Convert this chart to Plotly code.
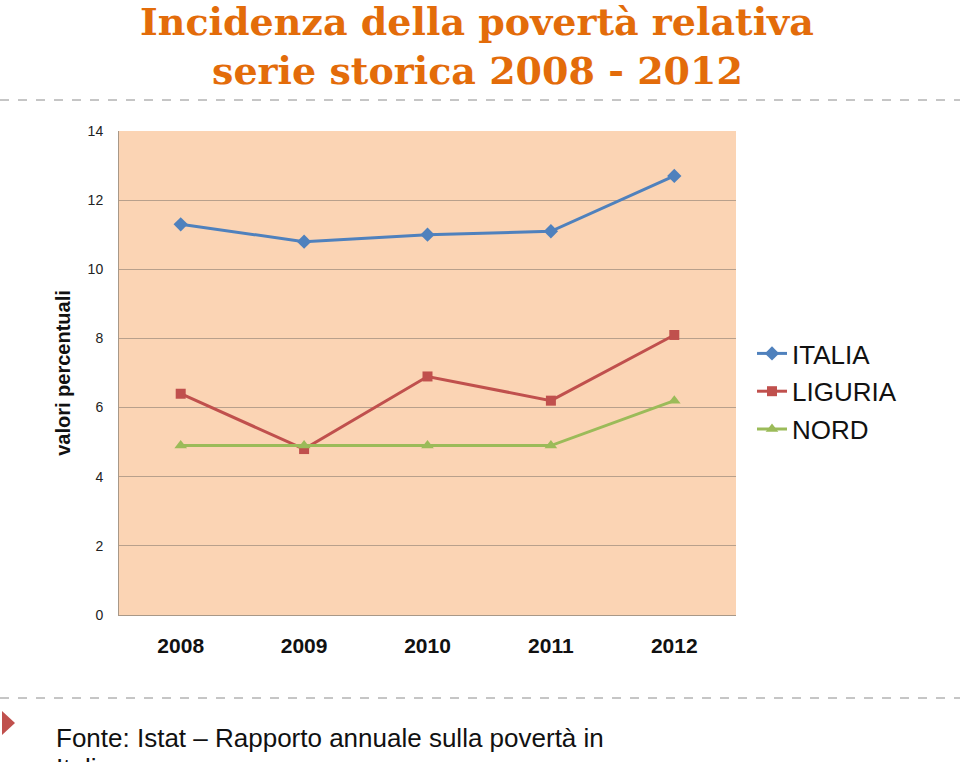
import plotly.graph_objects as go

years = ["2008", "2009", "2010", "2011", "2012"]
italia = [11.3, 10.8, 11.0, 11.1, 12.7]
liguria = [6.4, 4.8, 6.9, 6.2, 8.1]
nord = [4.9, 4.9, 4.9, 4.9, 6.2]
y_ticks = [0, 2, 4, 6, 8, 10, 12, 14]

W, H = 960, 762
L, R, T, B = 119, 736, 131, 615


def px(x):
    return (x - L) / (R - L)


def py(y):
    return (B - y) / (B - T)


fig = go.Figure()
fig.add_trace(go.Scatter(x=years, y=italia, name="ITALIA", mode="lines+markers",
                         legendgroup="a",
                         line=dict(color="#4F81BD", width=3),
                         marker=dict(symbol="diamond", size=11, color="#4F81BD")))
fig.add_trace(go.Scatter(x=years, y=liguria, name="LIGURIA", mode="lines+markers",
                         legendgroup="b",
                         line=dict(color="#C0504D", width=3),
                         marker=dict(symbol="square", size=10, color="#C0504D")))
fig.add_trace(go.Scatter(x=years, y=nord, name="NORD", mode="lines+markers",
                         legendgroup="c",
                         line=dict(color="#9BBB59", width=3),
                         marker=dict(symbol="triangle-up", size=11, color="#9BBB59")))

fig.update_layout(
    width=W, height=H,
    margin=dict(l=L, r=W - R, t=T, b=H - B, pad=0),
    paper_bgcolor="white",
    plot_bgcolor="#FBD4B4",
    showlegend=True,
    legend=dict(x=px(752), y=py(330), xanchor="left", yanchor="top",
                font=dict(family="Liberation Sans, Arial", size=26, color="#111111"),
                traceorder="grouped", tracegroupgap=1, itemwidth=30,
                bgcolor="rgba(0,0,0,0)"),
    xaxis=dict(type="category", range=[-0.5, 4.5], showgrid=False,
               tickvals=years, ticktext=[f"<b>{y}</b>" for y in years],
               showline=True, linecolor="#A89888", linewidth=1,
               ticks="", tickfont=dict(family="Liberation Sans, Arial", size=21, color="#111111"),
               ticklabelstandoff=12),
    yaxis=dict(range=[0, 14], tickvals=y_ticks, showgrid=True, gridcolor="#B8A08C",
               gridwidth=1, zeroline=False, showline=True, linecolor="#A89888", linewidth=1,
               ticks="", tickfont=dict(family="Liberation Sans, Arial", size=14, color="#222222"),
               ticklabelstandoff=12,
               title=dict(text="<b>valori percentuali</b>",
                          font=dict(family="Liberation Sans, Arial", size=20, color="#111111"),
                          standoff=11)),
    font=dict(family="Liberation Sans, Arial"),
)

title_font = dict(family="DejaVu Serif", size=38, color="#E36C0A")
fig.add_annotation(text="<b>Incidenza della povertà relativa</b>", xref="paper", yref="paper",
                   x=px(477), y=py(22), xanchor="center", yanchor="middle",
                   showarrow=False, font=title_font)
fig.add_annotation(text="<b>serie storica 2008 - 2012</b>", xref="paper", yref="paper",
                   x=px(477), y=py(71), xanchor="center", yanchor="middle",
                   showarrow=False, font=title_font)

for yy in (100, 698):
    fig.add_shape(type="line", xref="paper", yref="paper", x0=px(0), x1=px(960),
                  y0=py(yy), y1=py(yy), line=dict(color="#8C8C8C", width=1, dash="dash"))

fig.add_shape(type="path", xref="paper", yref="paper",
              path=f"M {px(2)} {py(711)} L {px(15)} {py(723)} L {px(2)} {py(735)} Z",
              fillcolor="#C0504D", line=dict(width=0))

foot_font = dict(family="Liberation Sans, Arial", size=26, color="#111111")
fig.add_annotation(text="Fonte: Istat – Rapporto annuale sulla povertà in",
                   xref="paper", yref="paper", x=px(54), y=py(721), xanchor="left",
                   yanchor="top", align="left", showarrow=False, font=foot_font)
fig.add_annotation(text="Italia",
                   xref="paper", yref="paper", x=px(54), y=py(751), xanchor="left",
                   yanchor="top", align="left", showarrow=False, font=foot_font)

fig.write_html("out.html", config={"displayModeBar": False},
               post_script="document.body.style.margin='0';document.body.style.overflow='hidden';")
